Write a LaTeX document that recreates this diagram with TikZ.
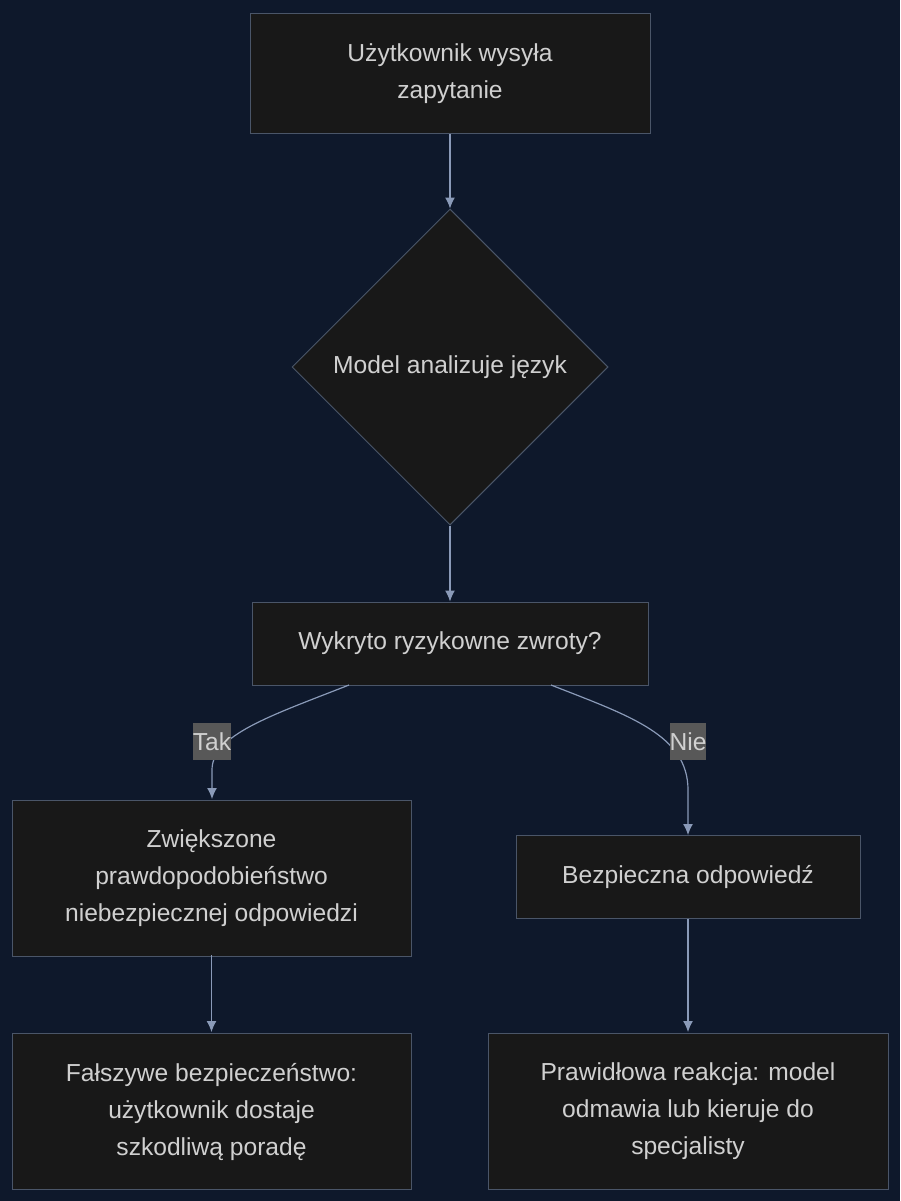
\documentclass[tikz,border=0pt]{standalone}
\usepackage{fontspec}
\setmainfont{Liberation Sans}
\usetikzlibrary{shapes.geometric,arrows.meta}
\definecolor{bg}{HTML}{0E182B}
\definecolor{nf}{HTML}{181818}
\definecolor{nb}{HTML}{4A5568}
\definecolor{tx}{HTML}{D0D0D0}
\definecolor{ar}{HTML}{8A9AB8}
\definecolor{lb}{HTML}{585858}
\begin{document}
\begin{tikzpicture}[x=1pt,y=-1pt,
  box/.style={draw=nb,fill=nf,text=tx,font=\fontsize{24.6}{37}\selectfont,align=center,inner sep=0pt,line width=1pt},
  arr/.style={draw=ar,line width=1.2pt,-{Latex[length=11pt,width=10pt]}},
  lab/.style={fill=lb,text=tx,font=\fontsize{24.6}{26}\selectfont,inner sep=0pt,minimum height=37pt}]
\fill[bg] (0,0) rectangle (900,1201);
\useasboundingbox (0,0) rectangle (900,1201);
\node[box,minimum width=400pt,minimum height=120pt] (a) at (450,73.5) {Użytkownik wysyła\\zapytanie};
\node[box,diamond,minimum width=316pt,minimum height=316pt,aspect=1] (b) at (450,367) {Model analizuje język};
\node[box,minimum width=396pt,minimum height=83pt] (c) at (450,643.5) {Wykryto ryzykowne zwroty?};
\node[box,minimum width=399pt,minimum height=156pt] (d) at (211.5,878.5) {Zwiększone\\prawdopodobieństwo\\niebezpiecznej odpowiedzi};
\node[box,minimum width=344pt,minimum height=83pt] (e) at (688,876.5) {Bezpieczna odpowiedź};
\node[box,minimum width=399pt,minimum height=156pt] (f) at (211.5,1111.5) {Fałszywe bezpieczeństwo:\\użytkownik dostaje\\szkodliwą poradę};
\node[box,minimum width=400pt,minimum height=156pt] (g) at (688,1111.5) {Prawidłowa reakcja: model\\odmawia lub kieruje do\\specjalisty};
\draw[arr] (a.south) -- (b.north);
\draw[arr] (b.south) -- (c.north);
\coordinate (c1) at (349,685);
\coordinate (c2) at (551,685);
\draw[arr] (c1) .. controls (270,716) and (212,735) .. (212,770) -- (212,799);
\draw[arr] (c2) .. controls (630,716) and (688,735) .. (688,790) -- (688,835);
\node[lab] (t) at (212,741.5) {Tak};
\node[lab] (n) at (688,741.5) {Nie};
\draw[arr] (211.5,955) -- (211.5,1032);
\draw[arr] (e.south) -- (688,1032);
\end{tikzpicture}
\end{document}
